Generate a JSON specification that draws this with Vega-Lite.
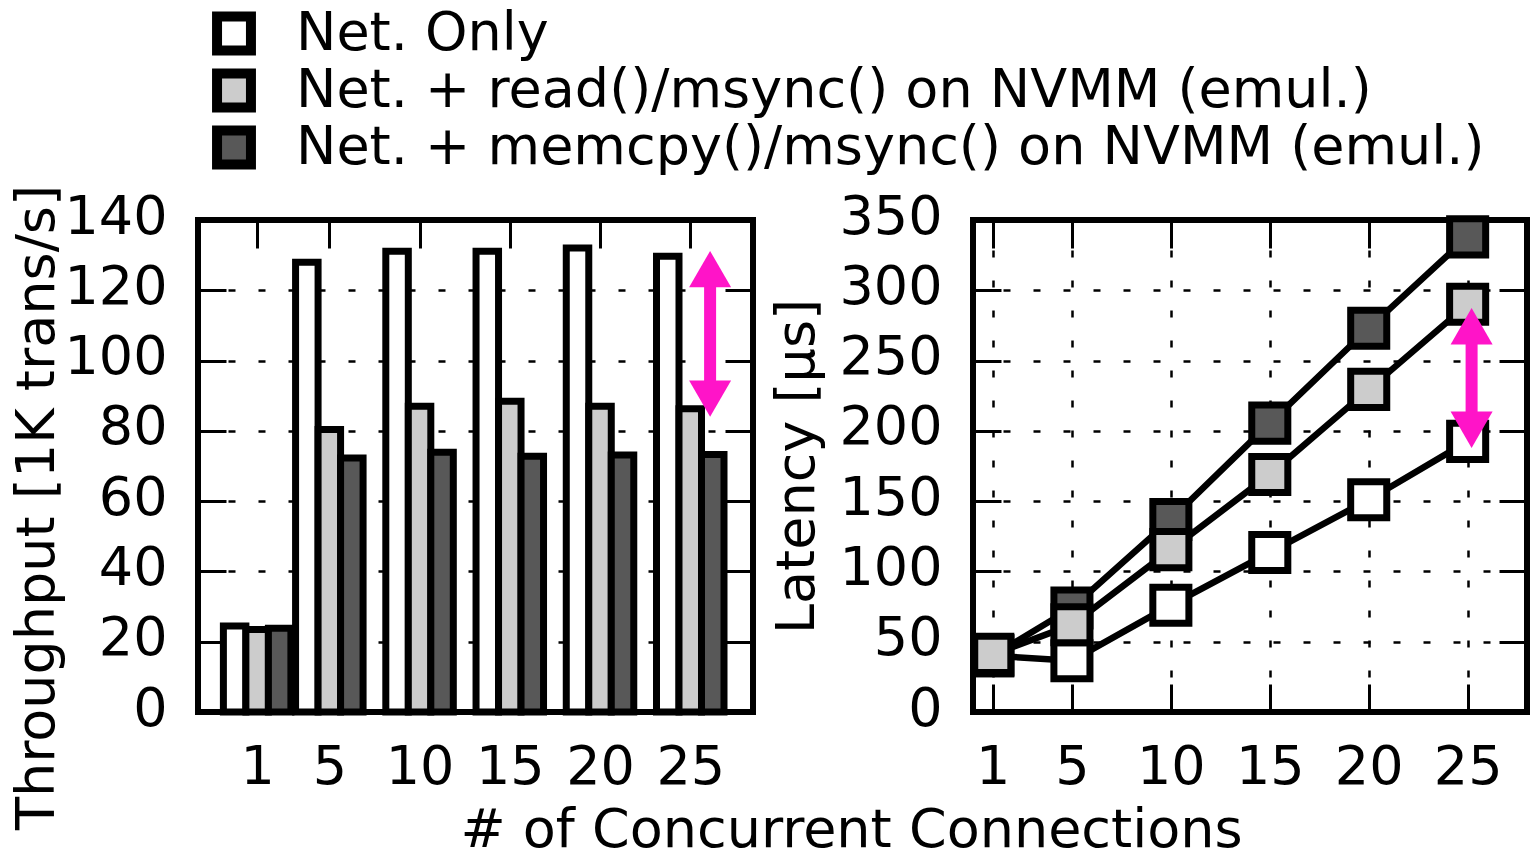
{
  "$schema": "https://vega.github.io/schema/vega-lite/v6.json",
  "background": "white",
  "padding": {"left": 6, "top": 5, "right": 0, "bottom": 0},
  "bounds": "flush",
  "spacing": 220,
  "datasets": {
    "tput": [
      {"conn": 1, "series": "Net. Only", "tput": 24.5},
      {"conn": 5, "series": "Net. Only", "tput": 128.0},
      {"conn": 10, "series": "Net. Only", "tput": 131.1},
      {"conn": 15, "series": "Net. Only", "tput": 131.1},
      {"conn": 20, "series": "Net. Only", "tput": 132.0},
      {"conn": 25, "series": "Net. Only", "tput": 129.7},
      {"conn": 1, "series": "Net. + read()/msync() on NVMM (emul.)", "tput": 23.5},
      {"conn": 5, "series": "Net. + read()/msync() on NVMM (emul.)", "tput": 80.4},
      {"conn": 10, "series": "Net. + read()/msync() on NVMM (emul.)", "tput": 87.0},
      {"conn": 15, "series": "Net. + read()/msync() on NVMM (emul.)", "tput": 88.4},
      {"conn": 20, "series": "Net. + read()/msync() on NVMM (emul.)", "tput": 87.0},
      {"conn": 25, "series": "Net. + read()/msync() on NVMM (emul.)", "tput": 86.3},
      {"conn": 1, "series": "Net. + memcpy()/msync() on NVMM (emul.)", "tput": 23.8},
      {"conn": 5, "series": "Net. + memcpy()/msync() on NVMM (emul.)", "tput": 72.3},
      {"conn": 10, "series": "Net. + memcpy()/msync() on NVMM (emul.)", "tput": 73.9},
      {"conn": 15, "series": "Net. + memcpy()/msync() on NVMM (emul.)", "tput": 72.8},
      {"conn": 20, "series": "Net. + memcpy()/msync() on NVMM (emul.)", "tput": 73.1},
      {"conn": 25, "series": "Net. + memcpy()/msync() on NVMM (emul.)", "tput": 73.3}
    ],
    "lat": [
      {"conn": 1, "series": "Net. Only", "lat": 40},
      {"conn": 5, "series": "Net. Only", "lat": 36.5},
      {"conn": 10, "series": "Net. Only", "lat": 76},
      {"conn": 15, "series": "Net. Only", "lat": 113.5},
      {"conn": 20, "series": "Net. Only", "lat": 151},
      {"conn": 25, "series": "Net. Only", "lat": 192.5},
      {"conn": 1, "series": "Net. + memcpy()/msync() on NVMM (emul.)", "lat": 40},
      {"conn": 5, "series": "Net. + memcpy()/msync() on NVMM (emul.)", "lat": 74},
      {"conn": 10, "series": "Net. + memcpy()/msync() on NVMM (emul.)", "lat": 137},
      {"conn": 15, "series": "Net. + memcpy()/msync() on NVMM (emul.)", "lat": 205.5},
      {"conn": 20, "series": "Net. + memcpy()/msync() on NVMM (emul.)", "lat": 273},
      {"conn": 25, "series": "Net. + memcpy()/msync() on NVMM (emul.)", "lat": 338},
      {"conn": 1, "series": "Net. + read()/msync() on NVMM (emul.)", "lat": 41},
      {"conn": 5, "series": "Net. + read()/msync() on NVMM (emul.)", "lat": 62},
      {"conn": 10, "series": "Net. + read()/msync() on NVMM (emul.)", "lat": 115.5},
      {"conn": 15, "series": "Net. + read()/msync() on NVMM (emul.)", "lat": 169},
      {"conn": 20, "series": "Net. + read()/msync() on NVMM (emul.)", "lat": 229.5},
      {"conn": 25, "series": "Net. + read()/msync() on NVMM (emul.)", "lat": 290}
    ],
    "arrowL": [{"x": 26.1, "top": 131.2, "bottom": 84.0}],
    "arrowR": [{"x": 25.2, "top": 287.4, "bottom": 187.8}]
  },
  "hconcat": [
    {
      "width": 555,
      "height": 492,
      "layer": [
        {
          "data": {"name": "tput"},
          "transform": [{"filter": "datum.series === 'Net. Only'"}],
          "mark": {"type": "bar", "width": 22.5, "xOffset": -22.5, "stroke": "black", "strokeWidth": 7, "opacity": 1},
          "encoding": {
            "x": {"field": "conn", "type": "quantitative", "scale": {"domain": [-2, 28.2], "nice": false, "zero": false},
              "axis": {"orient": "bottom", "values": [1, 5, 10, 15, 20, 25], "grid": false, "title": "# of Concurrent Connections",
                "titleX": 653, "titleY": 134, "titleAlign": "center", "titleBaseline": "alphabetic", "titleAngle": 0,
                "labelBaseline": "alphabetic", "labelPadding": 99}},
            "y": {"field": "tput", "type": "quantitative", "scale": {"domain": [0, 140], "nice": false},
              "axis": {"orient": "left", "values": [0, 20, 40, 60, 80, 100, 120, 140], "grid": true, "title": "Throughput [1K trans/s]",
                "titleX": -145, "titleY": 287, "titleAlign": "center", "titleBaseline": "alphabetic", "titleAngle": 270, "labelPadding": 59, "labelOffset": -3}},
            "color": {"field": "series", "type": "nominal",
              "scale": {"domain": ["Net. Only", "Net. + read()/msync() on NVMM (emul.)", "Net. + memcpy()/msync() on NVMM (emul.)"], "range": ["#ffffff", "#cccccc", "#585858"]},
              "legend": {"orient": "none", "legendX": 9, "legendY": -215, "title": null}}
          }
        },
        {
          "data": {"name": "tput"},
          "transform": [{"filter": "datum.series === 'Net. + read()/msync() on NVMM (emul.)'"}],
          "mark": {"type": "bar", "width": 22.5, "xOffset": 0, "stroke": "black", "strokeWidth": 7, "opacity": 1},
          "encoding": {
            "x": {"field": "conn", "type": "quantitative", "scale": {"domain": [-2, 28.2], "nice": false, "zero": false}, "axis": null},
            "y": {"field": "tput", "type": "quantitative", "scale": {"domain": [0, 140], "nice": false}, "axis": null},
            "color": {"field": "series", "type": "nominal",
              "scale": {"domain": ["Net. Only", "Net. + read()/msync() on NVMM (emul.)", "Net. + memcpy()/msync() on NVMM (emul.)"], "range": ["#ffffff", "#cccccc", "#585858"]},
              "legend": {"orient": "none", "legendX": 9, "legendY": -215, "title": null}}
          }
        },
        {
          "data": {"name": "tput"},
          "transform": [{"filter": "datum.series === 'Net. + memcpy()/msync() on NVMM (emul.)'"}],
          "mark": {"type": "bar", "width": 22.5, "xOffset": 22.5, "stroke": "black", "strokeWidth": 7, "opacity": 1},
          "encoding": {
            "x": {"field": "conn", "type": "quantitative", "scale": {"domain": [-2, 28.2], "nice": false, "zero": false}, "axis": null},
            "y": {"field": "tput", "type": "quantitative", "scale": {"domain": [0, 140], "nice": false}, "axis": null},
            "color": {"field": "series", "type": "nominal",
              "scale": {"domain": ["Net. Only", "Net. + read()/msync() on NVMM (emul.)", "Net. + memcpy()/msync() on NVMM (emul.)"], "range": ["#ffffff", "#cccccc", "#585858"]},
              "legend": {"orient": "none", "legendX": 9, "legendY": -215, "title": null}}
          }
        },
        {
          "data": {"name": "arrowL"},
          "mark": {"type": "rule", "color": "#ff14c8", "strokeWidth": 12, "yOffset": 25, "y2Offset": -25},
          "encoding": {
            "x": {"field": "x", "type": "quantitative", "scale": {"domain": [-2, 28.2], "nice": false, "zero": false},
              "axis": {"orient": "top", "values": [1, 5, 10, 15, 20, 25], "labels": false, "grid": false, "title": null}},
            "y": {"field": "top", "type": "quantitative", "scale": {"domain": [0, 140], "nice": false},
              "axis": {"orient": "right", "values": [0, 20, 40, 60, 80, 100, 120, 140], "labels": false, "grid": false, "title": null}},
            "y2": {"field": "bottom"}
          }
        },
        {
          "data": {"name": "arrowL"},
          "mark": {"type": "point", "shape": "triangle-up", "size": 1764, "filled": true, "color": "#ff14c8", "opacity": 1, "yOffset": 18.2},
          "encoding": {
            "x": {"field": "x", "type": "quantitative", "scale": {"domain": [-2, 28.2], "nice": false, "zero": false}, "axis": null},
            "y": {"field": "top", "type": "quantitative", "scale": {"domain": [0, 140], "nice": false}, "axis": null}
          }
        },
        {
          "data": {"name": "arrowL"},
          "mark": {"type": "point", "shape": "triangle-down", "size": 1764, "filled": true, "color": "#ff14c8", "opacity": 1, "yOffset": -18.2},
          "encoding": {
            "x": {"field": "x", "type": "quantitative", "scale": {"domain": [-2, 28.2], "nice": false, "zero": false}, "axis": null},
            "y": {"field": "bottom", "type": "quantitative", "scale": {"domain": [0, 140], "nice": false}, "axis": null}
          }
        }
      ],
      "resolve": {"axis": {"x": "independent", "y": "independent"}}
    },
    {
      "width": 554,
      "height": 492,
      "layer": [
        {
          "data": {"name": "lat"},
          "mark": {"type": "line", "color": "black", "strokeWidth": 6.5},
          "encoding": {
            "x": {"field": "conn", "type": "quantitative", "scale": {"domain": [0, 28], "nice": false, "zero": false},
              "axis": {"orient": "bottom", "values": [1, 5, 10, 15, 20, 25], "grid": true, "title": null, "labelBaseline": "alphabetic", "labelPadding": 99}},
            "y": {"field": "lat", "type": "quantitative", "scale": {"domain": [0, 350], "nice": false},
              "axis": {"orient": "left", "values": [0, 50, 100, 150, 200, 250, 300, 350], "grid": true, "title": "Latency [μs]",
                "titleX": -160, "titleY": 246, "titleAlign": "center", "titleBaseline": "alphabetic", "titleAngle": 270, "labelPadding": 59, "labelOffset": -3}},
            "detail": {"field": "series", "type": "nominal"}
          }
        },
        {
          "data": {"name": "lat"},
          "mark": {"type": "point", "shape": "square", "size": 1300, "filled": true, "stroke": "black", "strokeWidth": 7, "opacity": 1},
          "encoding": {
            "x": {"field": "conn", "type": "quantitative", "scale": {"domain": [0, 28], "nice": false, "zero": false}, "axis": null},
            "y": {"field": "lat", "type": "quantitative", "scale": {"domain": [0, 350], "nice": false}, "axis": null},
            "color": {"field": "series", "type": "nominal",
              "scale": {"domain": ["Net. Only", "Net. + read()/msync() on NVMM (emul.)", "Net. + memcpy()/msync() on NVMM (emul.)"], "range": ["#ffffff", "#cccccc", "#585858"]},
              "legend": {"orient": "none", "legendX": 9, "legendY": -215, "title": null}}
          }
        },
        {
          "data": {"name": "arrowR"},
          "mark": {"type": "rule", "color": "#ff14c8", "strokeWidth": 12, "yOffset": 25, "y2Offset": -25},
          "encoding": {
            "x": {"field": "x", "type": "quantitative", "scale": {"domain": [0, 28], "nice": false, "zero": false},
              "axis": {"orient": "top", "values": [1, 5, 10, 15, 20, 25], "labels": false, "grid": false, "title": null}},
            "y": {"field": "top", "type": "quantitative", "scale": {"domain": [0, 350], "nice": false},
              "axis": {"orient": "right", "values": [0, 50, 100, 150, 200, 250, 300, 350], "labels": false, "grid": false, "title": null}},
            "y2": {"field": "bottom"}
          }
        },
        {
          "data": {"name": "arrowR"},
          "mark": {"type": "point", "shape": "triangle-up", "size": 1764, "filled": true, "color": "#ff14c8", "opacity": 1, "yOffset": 18.2},
          "encoding": {
            "x": {"field": "x", "type": "quantitative", "scale": {"domain": [0, 28], "nice": false, "zero": false}, "axis": null},
            "y": {"field": "top", "type": "quantitative", "scale": {"domain": [0, 350], "nice": false}, "axis": null}
          }
        },
        {
          "data": {"name": "arrowR"},
          "mark": {"type": "point", "shape": "triangle-down", "size": 1764, "filled": true, "color": "#ff14c8", "opacity": 1, "yOffset": -18.2},
          "encoding": {
            "x": {"field": "x", "type": "quantitative", "scale": {"domain": [0, 28], "nice": false, "zero": false}, "axis": null},
            "y": {"field": "bottom", "type": "quantitative", "scale": {"domain": [0, 350], "nice": false}, "axis": null}
          }
        }
      ],
      "resolve": {"axis": {"x": "independent", "y": "independent"}}
    }
  ],
  "config": {
    "font": "DejaVu Sans",
    "view": {"stroke": "black", "strokeWidth": 6},
    "axis": {
      "labelFont": "DejaVu Sans", "labelFontSize": 54, "labelColor": "black",
      "titleFont": "DejaVu Sans", "titleFontSize": 54, "titleFontWeight": "normal", "titleColor": "black",
      "domain": false, "ticks": true, "tickColor": "black", "tickWidth": 3, "tickSize": -28,
      "gridColor": "black", "gridDash": [7, 23], "gridWidth": 2.5, "gridOpacity": 1,
      "labelFlush": false, "labelOverlap": false
    },
    "legend": {
      "labelFont": "DejaVu Sans", "labelFontSize": 54, "labelColor": "black", "labelLimit": 0,
      "symbolType": "square", "symbolSize": 1150, "symbolStrokeWidth": 10, "symbolStrokeColor": "black", "symbolOpacity": 1,
      "labelOffset": 35, "rowPadding": 0, "clipHeight": 57, "padding": 0,
      "encode": {"symbols": {"update": {"stroke": {"value": "black"}, "strokeWidth": {"value": 10}, "opacity": {"value": 1}}}}
    }
  }
}
